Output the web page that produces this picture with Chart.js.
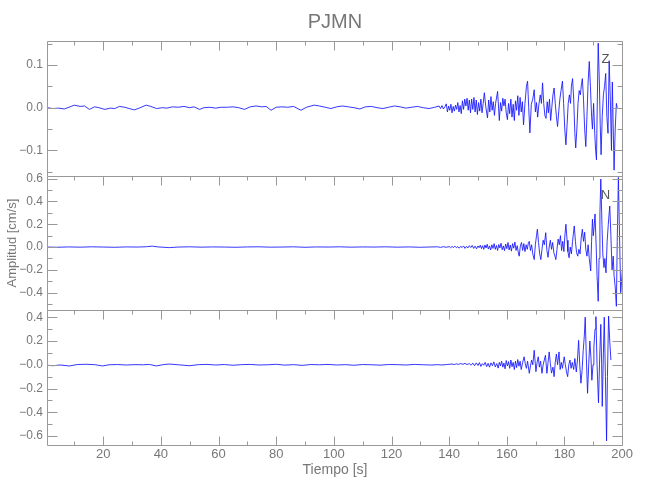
<!DOCTYPE html>
<html>
<head>
<meta charset="utf-8">
<script src="https://cdn.jsdelivr.net/npm/chart.js@4/dist/chart.umd.min.js"></script>
<style>
  body { margin: 0; background: #fff; }
  canvas { display: block; }
</style>
</head>
<body>
<canvas id="sismo" width="650" height="500"></canvas>
<script>
// componente Z (vertical) - tiempo [s] / amplitud [cm/s]
var zTime = [0.5,2.5,4.5,6.5,8.5,10,12,13.5,15.2,17,18.5,20.6,22.5,24,25.6,27.5,29,30.8,32.5,34.9,36.5,38.5,40.5,42,44,46,48,50,51.5,53.4,55,57,59,61,63,65,67,69,71,73,75,76.5,78.2,80,82,84,86,88.6,90.5,93.2,95,97,99,101,103,105,107,109,111,113,115,117,119,121,123,125,127,129,131,133,135,
  136.5,137,137.5,138,138.5,139,139.4,139.8,140.2,140.6,141,141.4,141.8,142.2,142.6,143,143.4,143.8,144.2,144.6,145,145.4,145.8,146.2,146.6,147,147.4,147.8,148.2,148.6,149,149.4,149.8,150.2,150.6,151,151.4,151.8,152.2,152.7,153.3,153.7,154.1,154.5,154.9,155.3,155.7,156.1,156.8,157.4,157.8,158.2,158.6,159,159.4,159.8,160.2,160.6,161,161.4,161.8,162.2,162.6,163,163.4,163.8,164.2,164.6,165,165.4,165.8,166.3,166.8,167.2,167.6,168,168.5,169,169.5,169.9,170.3,170.7,171.1,171.6,172,172.4,172.8,173.2,173.6,174,174.4,174.8,175.2,175.6,176,176.4,176.8,177.2,177.6,178,178.4,178.8,179.3,179.7,180.1,180.5,180.9,181.3,181.7,182.1,182.4,182.8,183.2,183.6,183.9,184.3,184.7,185.1,185.5,185.9,186.2,186.6,187,187.4,187.8,188.2,188.6,189,189.4,189.7,190.1,190.5,190.8,191.1,191.4,191.7,192.1,192.4,192.7,193.1,193.5,193.9,194.3,194.7,195.1,195.5,195.9,196.3,196.6,197.2,197.6,198,198.3];
var zAmp = [0,-0.002,-0.001,-0.003,0.002,0.006,0.003,0.004,-0.004,0.002,0,-0.004,-0.001,-0.002,0.003,0.001,-0.002,-0.005,-0.001,0.006,0.003,-0.002,0,-0.001,0.002,0.001,0.003,0,0.002,-0.004,0,0.001,-0.001,0.001,0.001,0.002,0,-0.004,0.002,0.004,0.002,0.003,-0.006,0.001,0.002,0.001,0.003,-0.006,0.001,0.006,0.004,0.001,-0.002,0.002,0.004,0.002,0,-0.003,0.002,0.003,0,-0.002,0.001,0.004,0.002,-0.001,0.001,0.003,0,-0.002,0.001,
  0.004,-0.002,0.005,-0.003,0.002,0.009,-0.010,0.004,-0.006,0.008,-0.012,0.003,-0.008,0.006,-0.004,0.012,-0.010,0.005,-0.014,0.016,-0.004,0.020,0.004,0.022,-0.006,0.018,-0.012,0.020,-0.004,0.024,-0.010,0.018,-0.016,0.012,-0.008,0.020,-0.012,0.010,0.035,0.002,-0.024,0.018,-0.010,0.026,-0.006,0.014,-0.018,0.010,0.038,-0.030,0.012,-0.008,0.022,0.004,0.020,-0.012,-0.028,0.010,-0.014,0.020,-0.022,0.008,-0.030,0.016,-0.006,0.028,-0.018,0.024,-0.010,0.014,-0.040,0.010,0.050,0.062,0,-0.059,0.008,0.020,0.042,-0.010,0.012,-0.022,0.006,0.030,0.010,0.058,0.010,-0.018,-0.025,0.014,-0.012,0.020,-0.030,0,0.030,0.046,0.010,-0.020,-0.044,-0.010,0.020,0.040,0.062,0.010,-0.050,-0.087,-0.040,0.010,0.030,0.010,0.050,0.068,0.020,-0.060,-0.094,-0.050,0.010,0.040,0.030,0.055,0.068,0.020,-0.050,-0.091,-0.020,0.060,0.108,0.050,-0.020,-0.050,0.010,-0.060,-0.100,-0.122,0.020,0.151,0.060,-0.040,-0.110,-0.020,0.030,0.050,0.080,-0.020,-0.060,0.110,0.020,-0.100,0.060,-0.146,-0.050,0.010,0];

// componente N
var nTime = [0.5,4,8,12,16,20,24,28,32,35,37,39,43,46,50,54,58,62,66,70,74,78,82,86,90,94,98,102,106,110,114,118,122,126,130,134,
  136,137,138,139,140,140.5,141,141.5,142,142.5,143,143.5,144,144.5,145,145.5,146,146.5,147,147.5,148,148.5,149,149.5,150,150.4,150.8,151.2,151.6,152,152.4,152.8,153.2,153.6,154,154.4,154.8,155.2,155.6,156,156.4,156.8,157.2,157.6,158,158.4,158.8,159.2,159.6,160,160.4,160.8,161.2,161.6,162,162.4,162.8,163.2,163.6,164,164.3,164.7,165.1,165.5,165.9,166.3,166.7,167.1,167.5,167.8,168.2,168.6,169,169.5,169.9,170.3,170.6,171,171.4,171.8,172.2,172.6,173,173.5,173.9,174.3,174.7,175.1,175.5,175.9,176.3,176.7,177,177.4,177.8,178.2,178.6,179,179.4,179.8,180.1,180.5,180.9,181.2,181.6,182,182.4,182.8,183.1,183.4,183.8,184.2,184.6,185,185.4,185.8,186.2,186.6,187,187.4,187.8,188.2,188.6,189.1,189.4,189.7,190,190.3,190.6,191,191.3,191.7,192,192.3,192.6,193,193.3,193.7,194,194.4,194.8,195.2,195.7,196.1,196.5,196.9,197.2,197.6,198,198.3,198.7,199.1,199.5,199.8,200.1];
var nAmp = [0,-0.002,0.001,-0.001,0.002,0,-0.002,0.001,0,0.003,0.008,0.001,-0.005,0,0.002,-0.001,0.001,0,-0.002,0.001,0.002,-0.001,0,0.002,-0.002,0.001,0,0.002,-0.001,0.001,0,0.002,-0.001,0.001,-0.002,0.001,
  0.002,-0.003,0.003,-0.002,0.004,-0.006,0.005,-0.004,0.008,-0.006,0.004,-0.010,0.006,-0.004,0.010,-0.012,0.006,-0.008,0.012,-0.004,0.014,-0.012,0.008,-0.016,0.010,-0.006,0.016,-0.014,0.012,-0.020,0.018,-0.008,0.024,-0.018,0.010,-0.026,0.020,-0.012,0.030,-0.020,0.014,-0.030,0.022,-0.008,0.034,-0.024,0.010,-0.032,0.026,-0.014,0.040,-0.026,0.018,-0.036,0.030,-0.010,0.044,-0.030,0.012,-0.050,-0.080,0.010,0.040,-0.030,0.030,-0.040,0.020,-0.020,0.040,0.050,-0.030,0.020,-0.060,-0.110,0.020,0.100,0.156,0.040,-0.060,-0.110,-0.020,0.060,0.020,0.126,-0.030,-0.090,0,0.060,-0.020,0.040,-0.050,-0.080,-0.110,-0.020,0.070,0.020,0.100,-0.030,0.050,-0.040,0.090,0.200,0.060,-0.040,-0.094,0,-0.060,0.050,0.120,0.185,0.050,-0.050,-0.080,-0.020,-0.060,0.080,0.156,0.050,0.130,-0.020,-0.080,0.020,-0.100,-0.210,0.050,0.244,0.100,0.180,0.290,0,-0.250,-0.476,-0.100,0.300,0.596,0.200,-0.060,-0.180,-0.100,-0.226,0.050,0.200,0.360,0.100,-0.200,-0.080,-0.250,-0.350,-0.520,0.050,0.610,0.100,-0.400,-0.300,-0.200];

// componente E
var eTime = [0.5,2.5,5,8.3,11,14,17,19.8,22,25,28,31,34,36,38.4,41,43,46,50,53,56,59,62,65,68,71,74,77,80,83,86,89,92,95,98,101,104,107,110,113,116,119,122,125,128,131,134,
  136,137.5,139,140,141,141.8,142.5,143.2,144,144.8,145.5,146.2,147,147.6,148.2,148.8,149.4,150,150.5,151,151.5,152,152.5,153,153.5,154,154.5,155,155.5,156,156.5,157,157.4,157.8,158.2,158.6,159,159.4,159.8,160.2,160.6,161,161.4,161.8,162.2,162.6,163,163.4,163.8,164.2,164.6,165,165.5,166,166.4,166.8,167.2,167.8,168.2,168.6,169,169.5,170.1,170.5,170.9,171.3,171.7,172.2,172.6,173,173.4,173.9,174.3,174.7,175.1,175.5,176,176.4,176.8,177.2,177.6,178.1,178.5,178.9,179.3,179.9,180.3,180.7,181.1,181.5,181.9,182.3,182.7,183.2,183.6,184.1,184.5,184.9,185.3,185.7,186.1,186.5,186.9,187.2,187.6,188,188.4,188.8,189.2,189.5,189.9,190.2,190.6,190.9,191.3,191.8,192.2,192.6,192.9,193.1,193.5,193.8,194.2,194.6,194.9,195.3,195.7,196.1];
var eAmp = [-0.004,-0.008,-0.002,-0.010,0.002,0.004,0.001,-0.010,0,0.002,-0.002,0.001,0,0.003,-0.010,0.002,0.006,0,-0.008,0.001,0.003,-0.002,0.002,-0.004,0.001,0.003,-0.002,0,0.004,-0.003,0.001,-0.005,0.002,0,0.003,-0.002,0.001,-0.004,0.002,0,-0.003,0.002,0.001,-0.002,0.003,0,-0.002,
  0.001,-0.002,0.002,0.004,0.006,0.002,0.008,0.003,0.010,0.004,0.012,0.002,0.010,-0.004,0.014,-0.008,0.016,-0.006,0.018,-0.014,0.010,-0.004,0.020,-0.016,0.012,-0.020,0.016,-0.008,0.024,-0.018,0.010,-0.028,0.020,-0.010,0.030,-0.020,0.014,-0.034,0.036,-0.010,0.026,-0.030,0.040,-0.016,0.020,-0.040,0.030,-0.024,0.044,-0.012,0.030,-0.040,0.020,0.067,0.010,-0.030,0.030,-0.072,-0.010,0.040,0,0.122,-0.058,0.020,0.067,-0.020,0.030,-0.072,0,0.040,0.080,-0.072,0.020,0.108,0.010,-0.070,-0.020,-0.100,0.020,0.090,0,0.108,-0.040,0.020,-0.030,0.067,0,-0.060,-0.100,0,0.040,-0.030,0.020,-0.040,0.053,-0.060,0.040,0.205,0,-0.155,-0.050,0.120,0.250,0.400,0.050,-0.240,0,0.200,0.050,-0.130,0,0.150,0.300,0.405,0,-0.320,0.050,0.340,0,-0.350,0.100,0.400,-0.100,-0.640,-0.100,0.410,0.200,0.040];

// marcas de los ejes
var xTicks = [20,40,60,80,100,120,140,160,180,200];
var zTicks = [-0.1,0.0,0.1];
var nTicks = [-0.4,-0.2,0.0,0.2,0.4,0.6];
var eTicks = [-0.6,-0.4,-0.2,0.0,0.2,0.4];

var fuente = "'Liberation Sans Narrow', 'Liberation Sans', sans-serif";
Chart.defaults.font.family = fuente;
Chart.defaults.color = '#777';

function pts(t, a) {
  return t.map(function (v, i) { return { x: v, y: a[i] }; });
}

function fmt(v) {
  return v < 0 ? '\u2212' + Math.abs(v).toFixed(1) : v.toFixed(1);
}

function yAxis(ticks, min, max, extra) {
  var ax = {
    type: 'linear',
    position: 'left',
    stack: 'comp',
    stackWeight: 1,
    min: min,
    max: max,
    grid: { display: false, drawTicks: false },
    border: { display: false },
    ticks: { padding: 4, autoSkip: false, font: { size: 12 }, callback: fmt },
    afterBuildTicks: function (s) { s.ticks = ticks.map(function (v) { return { value: v }; }); },
    afterFit: function (s) { s.width = 47; }
  };
  return Object.assign(ax, extra || {});
}

// marco de cada panel con marcas hacia adentro
var marco = {
  id: 'marco',
  afterDatasetsDraw: function (chart) {
    var ctx = chart.ctx, a = chart.chartArea, xs = chart.scales.x;
    var L = Math.round(a.left) + 0.5, R = Math.round(a.right) - 0.5;
    ctx.save();
    ctx.strokeStyle = '#999';
    ctx.lineWidth = 1;
    ctx.beginPath();
    ['yZ', 'yN', 'yE'].forEach(function (id, k) {
      var s = chart.scales[id];
      var T = Math.round(s.top) + 0.5, B = Math.round(s.bottom) + 0.5;
      ctx.moveTo(L, T); ctx.lineTo(R, T);
      ctx.moveTo(L, T); ctx.lineTo(L, B);
      ctx.moveTo(R, T); ctx.lineTo(R, B);
      var tv = s.ticks.map(function (t) { return t.value; });
      var step = tv[1] - tv[0];
      for (var v = tv[0] - step; v <= s.max + 1e-9; v += step / 2) {
        if (v < s.min) continue;
        var y = Math.round(s.getPixelForValue(v)) + 0.5;
        var major = tv.some(function (m) { return Math.abs(m - v) < 1e-6; });
        var len = major ? 10 : 5;
        ctx.moveTo(L, y); ctx.lineTo(L + len, y);
        ctx.moveTo(R, y); ctx.lineTo(R - len, y);
      }
      for (var t = 10; t <= xs.max; t += 10) {
        var x = Math.round(xs.getPixelForValue(t)) + 0.5;
        var l2 = (t % 20 === 0) ? 9 : 4;
        ctx.moveTo(x, T); ctx.lineTo(x, T + l2);
        if (k === 2) { ctx.moveTo(x, B); ctx.lineTo(x, B - l2); }
      }
      if (k === 2) { ctx.moveTo(L, B); ctx.lineTo(R, B); }
    });
    ctx.stroke();
    ctx.fillStyle = '#555';
    ctx.font = '13px ' + fuente;
    ctx.textAlign = 'center';
    ctx.textBaseline = 'middle';
    ctx.fillText('Z', xs.getPixelForValue(194.2), chart.scales.yZ.getPixelForValue(0.112));
    ctx.fillText('N', xs.getPixelForValue(194.2), chart.scales.yN.getPixelForValue(0.45));
    ctx.restore();
  }
};

var lineStyle = { borderColor: 'rgba(20,20,255,0.85)', borderWidth: 1, pointRadius: 0, tension: 0, fill: false };

new Chart(document.getElementById('sismo'), {
  type: 'line',
  data: {
    datasets: [
      Object.assign({ label: 'Z', data: pts(zTime, zAmp), yAxisID: 'yZ' }, lineStyle),
      Object.assign({ label: 'N', data: pts(nTime, nAmp), yAxisID: 'yN' }, lineStyle),
      Object.assign({ label: 'E', data: pts(eTime, eAmp), yAxisID: 'yE' }, lineStyle)
    ]
  },
  options: {
    responsive: false,
    animation: false,
    layout: { padding: { left: 0, right: 27, top: 0, bottom: 0 } },
    plugins: {
      legend: { display: false },
      tooltip: { enabled: false },
      title: {
        display: true,
        text: 'PJMN',
        fullSize: false,
        color: '#777',
        font: { size: 20, weight: 'normal' },
        padding: { top: 10, bottom: 7 }
      }
    },
    scales: {
      x: {
        type: 'linear',
        min: 0.5,
        max: 200.3,
        grid: { display: false, drawTicks: false },
        border: { display: false },
        ticks: { padding: 2, autoSkip: false, maxRotation: 0, font: { size: 13 } },
        afterBuildTicks: function (s) { s.ticks = xTicks.map(function (v) { return { value: v }; }); },
        afterFit: function (s) { s.height = 55; },
        title: { display: true, text: 'Tiempo [s]', font: { size: 14 }, padding: { top: 0, bottom: 21 } }
      },
      // the stacked left axes are laid out last-first, so E is declared first
      yE: yAxis(eTicks, -0.675, 0.458, {
        ticks: { padding: 4, autoSkip: false, font: { size: 12 }, callback: function (v) { return v === 0 ? '\u22120.0' : fmt(v); } }
      }),
      yN: yAxis(nTicks, -0.555, 0.626, {
        title: { display: true, text: 'Amplitud [cm/s]', font: { size: 13 }, padding: { top: 5, bottom: 0 } }
      }),
      yZ: yAxis(zTicks, -0.159, 0.156)
    }
  },
  plugins: [marco]
});
</script>
</body>
</html>
